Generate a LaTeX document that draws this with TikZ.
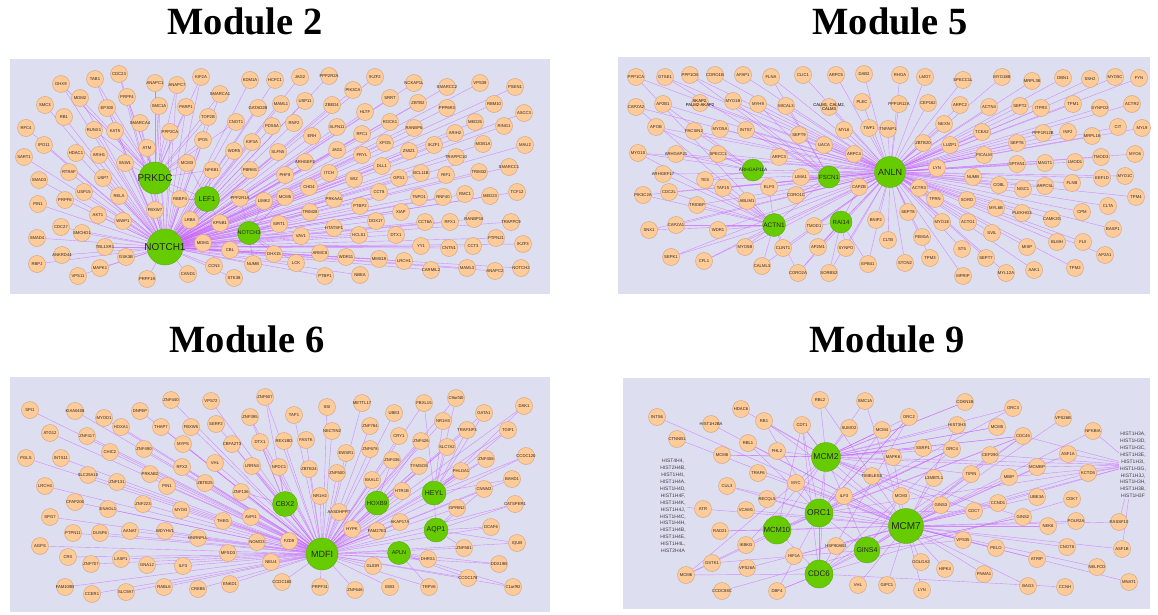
\documentclass[tikz,border=0pt]{standalone}
\usepackage{fontspec}
\setmainfont{Liberation Serif}
\setsansfont{Liberation Sans}
\pgfdeclarelayer{panel}
\pgfdeclarelayer{edges}
\pgfsetlayers{panel,edges,main}
\definecolor{panelbg}{RGB}{222,222,241}
\definecolor{genefill}{RGB}{255,204,153}
\definecolor{geneline}{RGB}{212,168,128}
\definecolor{hubfill}{RGB}{102,204,0}
\definecolor{edgecol}{RGB}{204,102,255}
\newcommand{\genefont}{\sffamily\fontsize{4.2}{4.6}\selectfont}
\newcommand{\hubfont}[1]{\sffamily\fontsize{#1}{#1}\selectfont}
\newcommand{\titlefont}{\rmfamily\bfseries\fontsize{38.5}{38.5}\selectfont}
\newcommand{\clusterfont}{\sffamily\fontsize{5}{6.9}\selectfont}
\newcommand{\gtext}[1]{\makebox[0pt]{#1}}
\tikzset{
  gene/.style={circle, draw=geneline, line width=0.5pt, fill=genefill, inner sep=0pt, minimum size=17pt, font=\genefont, text=black!85},
  hub/.style={circle, fill=hubfill, draw=hubfill!85!black, line width=0.4pt, inner sep=0pt, minimum size=#1, text=black!85},
  edge/.style={draw=edgecol, line width=0.4pt, opacity=0.7},
  title/.style={font=\titlefont},
  cluster/.style={align=center, inner sep=1pt, font=\clusterfont, text=black!75},
  panel/.style={fill=panelbg, draw=none}
}
% gene lists: name/x/y
\newcommand{\genesA}{DHX9/61/84, TAB1/95/79, CDC23/119/74, ANAPC1/155/83, ANAPC7/177/85, KIF2A/201/77,
  SMARCA1/220/94, SMC3/45/105, MDM2/80/98, PRPF4/127/97, SMC1A/159/106, PARP1/186/107, RB1/64/117,
  EP300/107/108, TOP2B/208/117, SMARCA4/140/123, RFC4/26/128, RUNX1/94/130, KAT5/115/131, PPP2CA/170/132,
  IPO5/203/140, IPO11/44/145, ATM/147/148, SART1/24/157, HDAC1/76/153, ARIH1/99/155, SNW1/125/163,
  MCM3/187/163, NFKB1/212/170, SMAD3/39/180, RTRAF/69/172, USP7/103/178, USP15/84/192, PRPF6/65/200,
  RELA/119/196, RBBP4/180/199, PIN1/38/204, FBXW7/155/210, AKT1/98/215, WWP1/123/221, LRBA/190/220,
  KPNB1/220/223, CDC27/61/227, SMCHD1/82/233, SMAD4/37/238, TBL1XR1/105/247, MDM1/203/243, CBL/230/250,
  ANKRD44/62/255, GSK3B/126/257, RBPJ/37/264, MAPK1/100/268, VPS11/78/276, CCN3/214/266, CAND1/188/274,
  PRPF19/147/279, STK38/234/278, KDM1A/250/80, HCFC1/275/80, JAG2/300/77, PPP2R2A/329/76, IKZF2/375/77,
  PIK3CA/353/90, NCKAP1L/414/83, SMARCC2/447/87, GATAD2B/258/108, MAML1/281/104, USP11/305/101,
  ZBED4/332/105, SRRT/390/98, ZBTB2/418/103, PPP6R3/447/108, CNOT1/236/122, PDS5A/272/126, RNF2/294/123,
  HLTF/365/112, SLFN11/337/127, RFC1/362/134, ROCK1/390/122, RANBP6/414/128, ARIH2/455/133, KIF3A/252/142,
  WDR5/234/151, ERH/312/136, JAG1/337/150, XPO5/385/143, IKZF1/434/145, SLFN5/278/152, FRYL/362/155,
  ZMIZ1/409/151, TRAPPC10/456/157, PBRM1/250/170, ARHGEF2/305/162, PHF8/285/175, ITCH/329/173,
  DLL1/382/166, WIZ/354/179, GPS1/399/178, BCL11B/421/173, RIF1/446/175, CHD4/309/187, CCT8/379/192,
  MCM5/285/197, PPP2R1A/240/198, LIMK2/264/201, PRKAA1/334/199, PTBP2/360/206, TNPO1/419/197,
  RNF40/443/197, TRIM28/310/212, SIRT1/279/224, HTATSF1/334/228, DDX17/376/221, XIAP/401/212,
  CCT6A/425/222, HCLS1/359/235, DTX1/396/235, VAV1/301/236, YY1/421/246, CNTN1/449/248, DHX15/274/254,
  ARMC8/320/253, WDR11/346/257, MMS19/379/259, LRCH1/404/261, NUMB/253/264, LCK/296/263,
  CARMIL2/431/270, PTBP1/325/276, NBEA/360/275, VPS39/480/83, PSEN1/515/87, RBM10/494/104,
  ASCC3/524/113, MED25/475/122, RING1/504/126, MOB1A/483/144, MAU2/525/145, TRIM32/479/172,
  SMARCC1/509/167, RMC1/465/194, MED23/490/196, TCF12/517/192, RFX1/450/222, RANBP10/474/219,
  TRAPPC9/511/222, PTPN21/496/238, IKZF3/523/244, CCT3/473/246, MAML3/467/268, ANAPC2/495/271,
  NOTCH2/521/268}
\newcommand{\genesB}{PPP1CA/636/77, GTSE1/665/77, PPP1CB/690/75, CORO1B/715/75, AFAP1/743/75, FLNA/771/77,
  CLIC1/803/75, ARPC5/836/75, DAB2/864/74, CAPZA2/636/107, AP2B1/663/104, MYO1B/733/101, MYH9/758/104,
  MICAL3/786/106, PLEC/862/102, APOB/656/127, PACSIN2/694/131, MYO5A/720/129, INTS7/746/130,
  SEPT9/799/135, MYL6/844/130, TWF1/869/128, MYO10/638/153, ARHGAP21/676/154, SPECC1/718/154,
  ARPC3/779/157, UACA/824/145, ARPC4/854/154, ARHGEF17/663/174, TES/705/180, LIMA1/801/177,
  PIK3C2A/643/195, CDC2L/669/192, TAF15/723/188, ELP3/769/187, CORO1C/796/195, CAPZB/859/187,
  TRIOBP/697/205, ABLIM1/747/201, SNX1/649/230, CAPZA1/676/225, WDR1/718/230, TMOD1/814/226,
  BNIP2/876/220, SEPK1/671/257, CFL1/704/261, MYO5B/745/247, CLINT1/783/248, AP2M1/818/247,
  SYNPO/846/248, CALML3/762/266, CORO2A/798/273, SORBS2/829/273, EPB41/868/264, RHOA/900/75,
  LMO7/925/77, SPECC1L/963/80, MYO18B/1002/77, MRPL38/1032/81, DBN1/1063/78, SSH2/1090/79,
  MYO5C/1115/77, FYN/1139/78, PPP1R12A/899/104, CEP162/928/103, ARPC2/960/105, ACTN4/989/107,
  SEPT2/1020/106, ITPR3/1041/108, TPM1/1073/104, SYNPO2/1100/108, ACTR2/1132/104, TNFAIP1/888/129,
  NEXN/944/124, TCEA2/982/132, PPP1R12B/1043/133, INF2/1068/132, MRPL18/1092/136, CIT/1118/127,
  MYL9/1142/128, ZBTB20/923/143, LUZP1/950/145, SEPT6/1017/143, PICALM/984/155, SPTAN1/1017/164,
  MAGT1/1045/163, LMOD1/1075/162, TMOD3/1101/157, MYO6/1135/154, LYN/937/168, NUMB/973/177,
  EEF1D/1102/178, MYO1C/1125/176, COBL/999/185, NISC1/1023/189, ARPC5L/1045/186, FLNB/1072/183,
  TPM4/1136/197, ACTR3/919/188, TPRN/935/199, SORD/967/200, MYL6B/996/208, PLEKHG3/1022/213,
  CLTA/1108/206, CPM/1082/212, CAMK2G/1052/219, SEPT8/908/212, MYO1E/942/222, ACTG1/968/222,
  BASP1/1113/229, FEM1A/922/237, SVIL/992/233, BLMH/1057/242, FLII/1083/242, MISP/1027/247,
  AP2A1/1105/255, CLTB/888/240, TPM3/930/258, ST5/962/249, SEPT7/986/258, TPM2/1075/268,
  STON2/905/263, MPRIP/963/276, MYL12A/1006/273, AAK1/1034/270}
\newcommand{\genesC}{SPI1/30/410, KIAA0408/75/411, MYOD1/104/418, DNPEP/140/411, ZNF440/171/400,
  VPS72/211/401, ATG12/50/433, ZNF417/87/436, HOXA1/121/427, THAP7/161/427, FBXW5/191/427,
  SERF2/216/424, CBFA2T3/232/444, CHIC2/110/452, ZNF490/144/449, MYPS/183/444, PGLS/26/458,
  INTS11/61/458, SLC25A10/88/475, PRKAB2/150/474, RFX2/182/467, VHL/215/463, PIN1/167/486,
  ZBTB25/205/483, ZNF131/117/482, LRCH4/45/486, CFAP206/75/502, ENAGL1/108/509, ZNF223/143/504,
  MYOG/181/510, SPG7/50/517, THEG/223/521, PTPN11/73/533, DUSP6/100/533, AANAT/130/531,
  WDYHV1/165/531, HNRNPLL/198/538, AGPS/40/546, CRX/68/557, ZNF707/91/564, LASP1/121/559,
  GNA12/147/565, ILF3/183/566, MFSD3/228/553, FAM109B/65/587, CCER1/92/594, SLC9A7/126/592,
  RABL6/164/587, CREB5/198/589, ENKD1/230/584, ZNF607/265/397, ZNF395/250/417, TAP1/294/415,
  SSI/327/407, METTL17/362/403, UBE3/394/413, FBXL15/424/403, C9orf40/456/398, NR1H3/443/421,
  TRAF3IP3/467/430, GATA1/484/413, DAK1/524/406, TGIF1/508/430, ZNF784/370/426, CRY1/399/436,
  ZNF426/421/441, SLC7A2/447/447, ZNF408/486/459, CCDC120/526/456, DTX1/260/442, REX1BD/284/441,
  FASTK/306/440, NECTIN2/332/431, ZNF678/370/449, EWSR1/346/453, ZNF436/392/460, TYMSOS/419/466,
  PHLDA1/461/471, LRRN4/252/466, NPDC1/279/467, ZBTB24/309/469, ZNF500/337/473, BAALC/372/480,
  BAHD1/512/479, CNNM2/484/489, ZNF136/241/492, NR1H2/320/496, HTR1B/402/491, AASDHPPT/339/512,
  AKAP17A/400/522, GPRIN2/457/508, CATSPER1/515/504, AVPI1/251/517, HYPK/352/529, FAM27E3/377/531,
  DCAF6/491/527, NOMO3/257/542, FZD9/289/541, ZNF581/464/548, IQUB/517/543, DHRS1/428/559,
  NEU4/271/562, GLIDR/373/566, DDX19B/499/564, CCDC180/282/582, CCDC178/468/578, PRPF31/320/587,
  ZNF646/355/590, EBI3/390/587, TRPV6/429/587, C1orf92/513/587}
% name/x/y/hub
\newcommand{\genesD}{INTS6/657/417/MCM7, HDAC6/741/409/MCM2, RB1/764/421/MCM7, HIST1H2BA/711/424/MCM7,
  CDT1/802/425/MCM2, RBL2/820/400/MCM7, SMC1A/865/401/MCM7, SUMO2/849/428/MCM2, CTNNB1/677/439/MCM7,
  RBL1/748/443/MCM7, FHL2/777/451/MCM2, MCM8/722/455/MCM2, TRAF6/758/473/MCM7, CUL3/727/486/MCM7,
  MYC/796/483/MCM7, TIMELESS/872/476/MCM2, ILF3/844/496/MCM7, RECQL5/767/499/ORC1, ATR/703/509/MCM7,
  VCAM1/746/510/MCM7, RAD21/720/531/MCM7, IKBKG/746/545/MCM2, HSP90AB1/836/546/MCM7, HIF1A/794/556/MCM7,
  GSTK1/712/563/GINS4, VPS26A/747/568/MCM7, MCM6/686/575/MCM10, CCDC88C/722/591/GINS4, DBF4/777/591/CDC6,
  VHL/858/585/MCM7, CDKN1B/965/402/MCM2, ORC3/1013/408/ORC1, ORC2/909/417/ORC1, HIST3H3/957/425/MCM7,
  VPS26B/1063/418/MCM7, MCM4/882/430/MCM2, MCM5/997/427/MCM2, CDC45/1023/436/MCM2, NFKBIA/1093/431/MCM7,
  SSRP1/923/448/MCM2, ORC4/952/449/ORC1, MAPK6/893/457/MCM7, CEP290/990/455/MCM7, ASF1A/1068/454/MCM7,
  MCMBP/1037/467/MCM7, KCTD5/1088/473/MCM7, TIPIN/971/474/MCM7, L3MBTL1/934/478/MCM7, MBIP/1009/477/MCM7,
  MCM3/901/496/MCM2, UBE3A/1037/497/MCM7, CDK7/1072/499/CDC6, GINS3/941/505/GINS4, CCND1/998/503/MCM7,
  CDC7/974/511/MCM7, GINS2/1023/517/GINS4, NEK6/1048/526/MCM7, POLR2A/1076/521/MCM7,
  RASSF10/1119/522/MCM7, VPS35/963/540/MCM7, PELO/996/548/MCM7, CNOT8/1067/547/MCM7, ASF1B/1122/549/MCM7,
  ATRIP/1037/559/MCM7, GOLGA2/921/562/MCM7, HIPK4/945/569/MCM7, NELFCD/1097/567/MCM7, PNMA1/984/574/MCM7,
  GIPC1/887/585/MCM7, LYN/922/590/MCM7, BAG3/1028/586/MCM7, CCNH/1065/587/CDC6, MNAT1/1129/582/MCM7}
\begin{document}
\begin{tikzpicture}[x=1pt, y=-1pt]
\useasboundingbox (0,0) rectangle (1158,615);
\begin{pgfonlayer}{panel}
  \fill[panel] (10,59) rectangle (550,294);
  \fill[panel] (618,57) rectangle (1150,294);
  \fill[panel] (10,377) rectangle (550,612);
  \fill[panel] (623,378) rectangle (1150,609);
\end{pgfonlayer}

\node[title] (title2) at (245,21) {Module 2};
\node[title] (title5) at (890,21) {Module 5};
\node[title] (title6) at (247,339) {Module 6};
\node[title] (title9) at (887,339) {Module 9};

% Module 2
\node[hub=36pt, font={\hubfont{10}}] (aNOTCH1) at (165,247) {\gtext{NOTCH1}};
\node[hub=32pt, font={\hubfont{10}}] (aPRKDC) at (155,178) {\gtext{PRKDC}};
\node[hub=25pt, font={\hubfont{7}}] (aLEF1) at (207,199) {\gtext{LEF1}};
\node[hub=23pt, font={\hubfont{5.5}}] (aNOTCH3) at (249,233) {\gtext{NOTCH3}};
\foreach \n/\x/\y in \genesA
  \node[gene] (a\n) at (\x,\y) {\gtext{\n}};

% Module 5
\node[hub=31pt, font={\hubfont{9}}] (bANLN) at (890,172) {\gtext{ANLN}};
\node[hub=22pt, font={\hubfont{4.8}}] (bARHGAP11A) at (753,170) {\gtext{ARHGAP11A}};
\node[hub=22pt, font={\hubfont{6}}] (bFSCN1) at (829,177) {\gtext{FSCN1}};
\node[hub=23pt, font={\hubfont{6.5}}] (bACTN1) at (774,225) {\gtext{ACTN1}};
\node[hub=22pt, font={\hubfont{6}}] (bRAI14) at (841,222) {\gtext{RAI14}};
\node[gene] (bAKAP2) at (700,103) {};
\node[font=\genefont, align=center, inner sep=0pt] (bAKAP2text) at (bAKAP2) {AKAP2,\\PALM2-AKAP2};
\node[gene] (bCALM) at (829,107) {};
\node[font=\genefont, align=center, inner sep=0pt] (bCALMtext) at (bCALM) {CALM1, CALM2,\\CALM3};
\foreach \n/\x/\y in \genesB
  \node[gene] (b\n) at (\x,\y) {\gtext{\n}};

% Module 6
\node[hub=32pt, font={\hubfont{9}}] (cMDFI) at (322,554) {\gtext{MDFI}};
\node[hub=25pt, font={\hubfont{7}}] (cCBX2) at (285,504) {\gtext{CBX2}};
\node[hub=24pt, font={\hubfont{6}}] (cHOXB9) at (377,503) {\gtext{HOXB9}};
\node[hub=24pt, font={\hubfont{7}}] (cHEYL) at (434,493) {\gtext{HEYL}};
\node[hub=24pt, font={\hubfont{7}}] (cAQP1) at (436,530) {\gtext{AQP1}};
\node[hub=23pt, font={\hubfont{5.5}}] (cAPLN) at (399,553) {\gtext{APLN}};
\foreach \n/\x/\y in \genesC
  \node[gene] (c\n) at (\x,\y) {\gtext{\n}};

% Module 9
\node[hub=35pt, font={\hubfont{10}}] (dMCM7) at (906,526) {\gtext{MCM7}};
\node[hub=29pt, font={\hubfont{8.5}}] (dMCM2) at (826,457) {\gtext{MCM2}};
\node[hub=28pt, font={\hubfont{8.5}}] (dORC1) at (819,513) {\gtext{ORC1}};
\node[hub=28pt, font={\hubfont{7.5}}] (dMCM10) at (777,530) {\gtext{MCM10}};
\node[hub=26pt, font={\hubfont{7}}] (dGINS4) at (867,550) {\gtext{GINS4}};
\node[hub=28pt, font={\hubfont{8}}] (dCDC6) at (819,574) {\gtext{CDC6}};
\node[cluster] (dHISTL) at (673,506) {HIST4H4,\\HIST2H4B,\\HIST1H4I,\\HIST1H4A,\\HIST1H4D,\\HIST1H4F,\\HIST1H4K,\\HIST1H4J,\\HIST1H4C,\\HIST1H4H,\\HIST1H4B,\\HIST1H4E,\\HIST1H4L,\\HIST2H4A};
\node[cluster] (dHISTR) at (1133,465) {HIST1H3A,\\HIST1H3D,\\HIST1H3C,\\HIST1H3E,\\HIST1H3I,\\HIST1H3G,\\HIST1H3J,\\HIST1H3H,\\HIST1H3B,\\HIST1H3F};
\foreach \n/\x/\y/\h in \genesD
  \node[gene] (d\n) at (\x,\y) {\gtext{\n}};

% connectors, under the nodes
\begin{pgfonlayer}{edges}
  \foreach \n/\x/\y in \genesA
    \draw[edge] (aNOTCH1) -- (a\n);
  \foreach \n in {DHX9, TAB1, CDC23, ANAPC1, ANAPC7, KIF2A, SMARCA1, SMC1A, PARP1, PRPF4, EP300, SMARCA4,
    KAT5, ATM, PPP2CA, IPO5, TOP2B, MCM3, NFKB1, RBBP4, SNW1, CNOT1, MDM2, RUNX1}
    \draw[edge] (aPRKDC) -- (a\n);
  \foreach \n in {KPNB1, LRBA, RBBP4, MCM3, NFKB1}
    \draw[edge] (aLEF1) -- (a\n);
  \foreach \n in {SIRT1, LIMK2, PPP2R1A, TRIM28, VAV1, CBL, DHX15, NUMB, LCK, MCM5}
    \draw[edge] (aNOTCH3) -- (a\n);
  \foreach \n in {PRKDC, LEF1, NOTCH3}
    \draw[edge] (aNOTCH1) -- (a\n);
  \draw[edge] (aPRKDC) -- (aLEF1);

  \foreach \n/\x/\y in \genesB
    \draw[edge] (bANLN) -- (b\n);
  \draw[edge] (bANLN) -- (bAKAP2);
  \draw[edge] (bANLN) -- (bCALM);
  \foreach \n in {SNX1, CAPZA1, PIK3C2A, WDR1, MYO10, CDC2L, TRIOBP, ABLIM1, SEPK1, CFL1, MYO5B, CLINT1,
    TAF15, ELP3, ARHGEF17, CAPZA2, PPP1CA, TES, CALML3, CORO2A}
    \draw[edge] (bACTN1) -- (b\n);
  \foreach \n in {MYO10, ARHGAP21, SPECC1, APOB, PACSIN2, TES, AP2B1}
    \draw[edge] (bARHGAP11A) -- (b\n);
  \foreach \n in {FLNA, MYH9, MICAL3, LIMA1, CORO1C, ELP3, TAF15, MYO1B, INTS7, PPP1CB, GTSE1}
    \draw[edge] (bFSCN1) -- (b\n);
  \foreach \n in {SYNPO, AP2M1, CORO2A, SORBS2, TMOD1, CAPZB, EPB41}
    \draw[edge] (bRAI14) -- (b\n);
  \foreach \n in {ARHGAP11A, FSCN1, ACTN1, RAI14}
    \draw[edge] (bANLN) -- (b\n);
  \draw[edge] (bACTN1) -- (bFSCN1);

  \foreach \n/\x/\y in \genesC
    \draw[edge] (cMDFI) -- (c\n);
  \foreach \n in {C9orf40, GATA1, DAK1, TGIF1, CCDC120, BAHD1, ZNF408, PHLDA1, NR1H3, TRAF3IP3, SLC7A2, FBXL15}
    \draw[edge] (cHEYL) -- (c\n);
  \foreach \n in {CATSPER1, DCAF6, IQUB, ZNF581, GPRIN2, CNNM2}
    \draw[edge] (cAQP1) -- (c\n);
  \foreach \n in {BAALC, HTR1B, ZNF436, TYMSOS, ZNF426}
    \draw[edge] (cHOXB9) -- (c\n);
  \foreach \n in {ZNF136, LRRN4, NPDC1, ZNF395, DTX1, ZNF607}
    \draw[edge] (cCBX2) -- (c\n);
  \foreach \n in {DHRS1, DDX19B, C1orf92, TRPV6, CCDC178}
    \draw[edge] (cAPLN) -- (c\n);
  \foreach \n in {CBX2, HOXB9, HEYL, AQP1, APLN}
    \draw[edge] (cMDFI) -- (c\n);
  \draw[edge] (cHEYL) -- (cAQP1);

  \foreach \n/\x/\y/\h in \genesD
    \draw[edge] (d\h) -- (d\n);
  \foreach \a/\b in {MCM2/MCM7, MCM2/ORC1, MCM2/MCM10, MCM2/CDC6, MCM2/GINS4, MCM7/ORC1, MCM7/MCM10,
    MCM7/CDC6, MCM7/GINS4, ORC1/CDC6, ORC1/MCM10, MCM10/CDC6, CDC6/GINS4, ORC1/GINS4}
    \draw[edge] (d\a) -- (d\b);
  \foreach \n in {CDT1, RBL2, SMC1A, MCM4, ORC2, HIST3H3, MCM5, CDC45, ORC3, CDKN1B, ORC4, MCM6,
    MCM8, GINS2, GINS3, CDC7, TIPIN, MCMBP, RB1, SSRP1}
    \draw[edge] (dMCM2) -- (d\n);
  \foreach \n in {ORC2, ORC4, CDC45, CDT1, MCM4, MCM6, CDC7, DBF4, RB1, RBL1, CUL3}
    \draw[edge] (dORC1) -- (d\n);
  \foreach \n in {CDT1, CDC45, DBF4, ORC4, ORC2, MCM6}
    \draw[edge] (dCDC6) -- (d\n);
  \foreach \n in {GINS2, CDC45, MCM3, VPS35}
    \draw[edge] (dGINS4) -- (d\n);
  \foreach \n in {ORC4, CDC45, CDT1, RAD21}
    \draw[edge] (dMCM10) -- (d\n);
  \draw[edge] (dHISTL) -- (dATR);
  \foreach \n in {ASF1A, KCTD5, MBIP, MCMBP, CEP290, CDC45, NFKBIA, RASSF10, ASF1B, MCM7, MCM2, ORC1, CCND1}
    \draw[edge] (dHISTR) -- (d\n);
\end{pgfonlayer}
\end{tikzpicture}
\end{document}
